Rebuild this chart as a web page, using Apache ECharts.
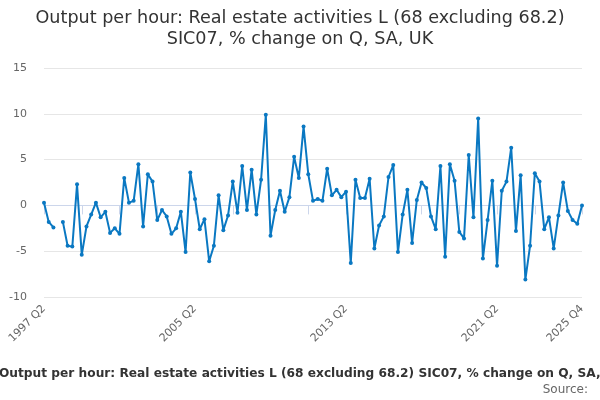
<!DOCTYPE html>
<html>
<head>
<meta charset="utf-8">
<script src="https://cdn.jsdelivr.net/npm/echarts@6/dist/echarts.min.js"></script>
<style>
  html, body { margin: 0; padding: 0; background: #fff; }
  #main { width: 600px; height: 400px; }
</style>
</head>
<body>
<div id="main"></div>
<script>
// quarters 1997 Q2 .. 2025 Q4
var quarters = [];
for (var y = 1997; y <= 2025; y++) {
    for (var q = 1; q <= 4; q++) {
        if (y === 1997 && q < 2) continue;
        quarters.push(y + " Q" + q);
    }
}

// % change on quarter (1998 Q1 missing)
var values1997to2004 = [0.3, -1.8, -2.4, null, -1.8, -4.4, -4.5, 2.3, -5.4, -2.3, -1.0, 0.3,
    -1.3, -0.7, -3.0, -2.5, -3.1, 3.0, 0.3, 0.5, 4.5, -2.3, 3.4, 2.6,
    -1.6, -0.5, -1.2, -3.1, -2.5, -0.7, -5.1, 3.6];
var values2005to2012 = [0.7, -2.6, -1.5, -6.1, -4.4, 1.1, -2.7, -1.1, 2.6, -0.8, 4.3, -0.5,
    3.9, -1.0, 2.8, 9.9, -3.3, -0.5, 1.6, -0.7, 0.9, 5.3, 3.0, 8.6,
    3.4, 0.5, 0.7, 0.5, 4.0, 1.1, 1.7, 0.9];
var values2013to2020 = [1.5, -6.3, 2.8, 0.8, 0.8, 2.9, -4.7, -2.2, -1.2, 3.1, 4.4, -5.1,
    -1.0, 1.7, -4.1, 0.6, 2.5, 1.9, -1.2, -2.6, 4.3, -5.6, 4.5, 2.7,
    -2.9, -3.6, 5.5, -1.3, 9.5, -5.8, -1.6, 2.7];
var values2021to2025 = [-6.6, 1.6, 2.6, 6.3, -2.8, 3.3, -8.1, -4.4, 3.5, 2.6, -2.6, -1.3,
    -4.7, -1.1, 2.5, -0.6, -1.6, -2.0, 0.0];

var values = values1997to2004.concat(values2005to2012, values2013to2020, values2021to2025);
var lastIdx = quarters.length - 1;

var chart = echarts.init(document.getElementById("main"));
var option = {
    animation: false,
    textStyle: { fontFamily: "DejaVu Sans" },
    title: [{
        text: "Output per hour: Real estate activities L (68 excluding 68.2)\nSIC07, % change on Q, SA, UK",
        left: "center",
        top: 8,
        padding: 0,
        textStyle: { color: "#333333", fontSize: 17.6, fontWeight: "normal", lineHeight: 21 }
    }, {
        text: "Source:",
        right: 12,
        top: 384,
        padding: 0,
        textStyle: { color: "#666666", fontSize: 12, fontWeight: "normal" }
    }],
    // the long footer line runs off the right edge of the canvas
    graphic: [{
        type: "text",
        x: -1,
        y: 368,
        style: {
            text: "Output per hour: Real estate activities L (68 excluding 68.2) SIC07, % change on Q, SA, UK",
            fill: "#333333",
            font: "bold 12.2px 'DejaVu Sans'"
        }
    }],
    grid: { left: 44, right: 18, top: 68, bottom: 103, containLabel: false },
    xAxis: {
        type: "category",
        data: quarters,
        boundaryGap: false,
        axisLine: { lineStyle: { color: "#ccd6eb" } },
        axisTick: {
            length: 9,
            lineStyle: { color: "#ccd6eb" },
            interval: function (i) { return (i % 8 === 0 && i <= 104) || i === lastIdx; }
        },
        axisLabel: {
            rotate: 45,
            color: "#666666",
            fontSize: 11,
            margin: 10,
            interval: function (i) { return i % 32 === 0 || i === lastIdx; }
        }
    },
    yAxis: {
        type: "value",
        min: -10,
        max: 15,
        interval: 5,
        axisLine: { show: false },
        axisTick: { show: false },
        axisLabel: { color: "#666666", fontSize: 11, margin: 17 },
        splitLine: { lineStyle: { color: "#e6e6e6" } }
    },
    series: [{
        name: "Output per hour",
        type: "line",
        data: values,
        connectNulls: false,
        showAllSymbol: true,
        symbol: "circle",
        symbolSize: 4,
        lineStyle: { color: "#0a78c2", width: 2 },
        itemStyle: { color: "#0a78c2" }
    }]
};
chart.setOption(option);
</script>
</body>
</html>
